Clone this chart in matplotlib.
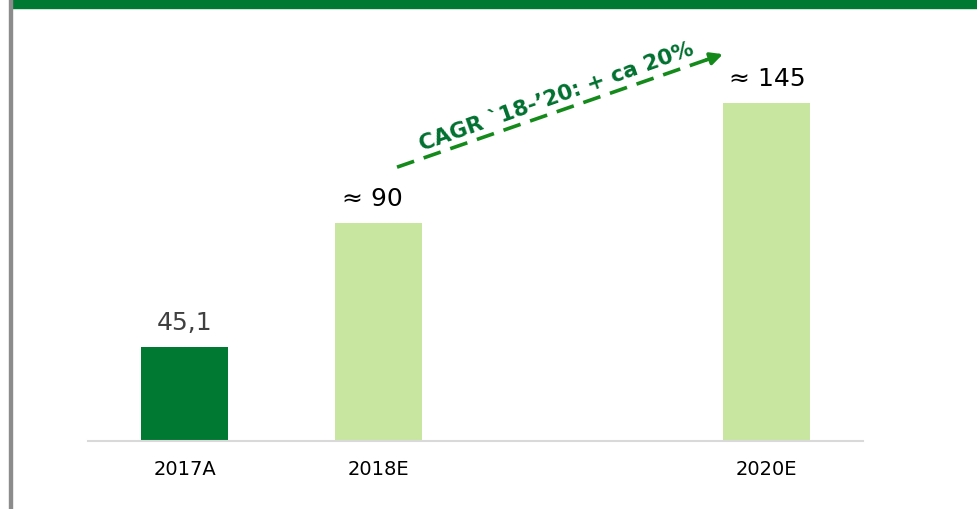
import matplotlib.pyplot as plt
from matplotlib.patches import Rectangle

# data
categories = ["2017A", "2018E", "2020E"]
x_pos = [0, 1, 3]                      # 2019 slot left empty
heights = [40.3, 93.5, 145]            # bar heights as drawn (not to scale in source)
labels = ["45,1", "\u2248 90", "\u2248 145"]
label_colors = ["#404040", "black", "black"]
bar_colors = ["#007A33", "#C9E6A1", "#C9E6A1"]
cagr_text = "CAGR `18-\u201920: + ca 20%"

# small horizontal nudges of the value labels (layout only)
label_dx = [0, -0.03, 0.005]

W, H = 978, 510
fig = plt.figure(figsize=(W / 100, H / 100), dpi=100)

# frame decoration: green band at the top, gray line at the left
fig.patches.append(Rectangle((12 / W, 1 - 9 / H), 1, 9 / H, transform=fig.transFigure,
                             color="#007A33", zorder=0))
fig.patches.append(Rectangle((9 / W, 0), 3 / W, 1, transform=fig.transFigure,
                             color="#8C8C8C", zorder=0))

ax = fig.add_axes([88 / W, 68 / H, 775 / W, 433 / H])
ax.bar(x_pos, heights, width=0.45, color=bar_colors)
ax.set_xlim(-0.5, 3.5)
ax.set_ylim(0, 185.8)

for x, dx, h, lab, c in zip(x_pos, label_dx, heights, labels, label_colors):
    ax.text(x + dx, h + 5.5, lab, ha="center", va="bottom", fontsize=18, color=c)

ax.set_xticks(x_pos)
ax.set_xticklabels(categories, fontsize=14)
ax.tick_params(axis="x", length=0, pad=13)
ax.set_yticks([])
for s in ["top", "right", "left"]:
    ax.spines[s].set_visible(False)
ax.spines["bottom"].set_color("#D9D9D9")
ax.spines["bottom"].set_linewidth(1.5)

# CAGR arrow from above 2018E bar to above 2020E bar
start = (1.095, 117.5)
end = (2.777, 166)
f = 0.95
mid = (start[0] + f * (end[0] - start[0]), start[1] + f * (end[1] - start[1]))
ax.plot([start[0], mid[0]], [start[1], mid[1]], color="#138A1A", lw=2.6,
        ls=(0, (5, 2.8)), solid_capstyle="butt", dash_capstyle="butt")
ax.annotate("", xy=end, xytext=mid,
            arrowprops=dict(arrowstyle="-|>", color="#138A1A", lw=2.6,
                            mutation_scale=18, shrinkA=0, shrinkB=0))
ax.text(1.92, 148, cagr_text, rotation=19.5, rotation_mode="anchor",
        ha="center", va="center", fontsize=15.5, fontweight="bold", color="#00702F")

fig.savefig("out.png", dpi=100)
